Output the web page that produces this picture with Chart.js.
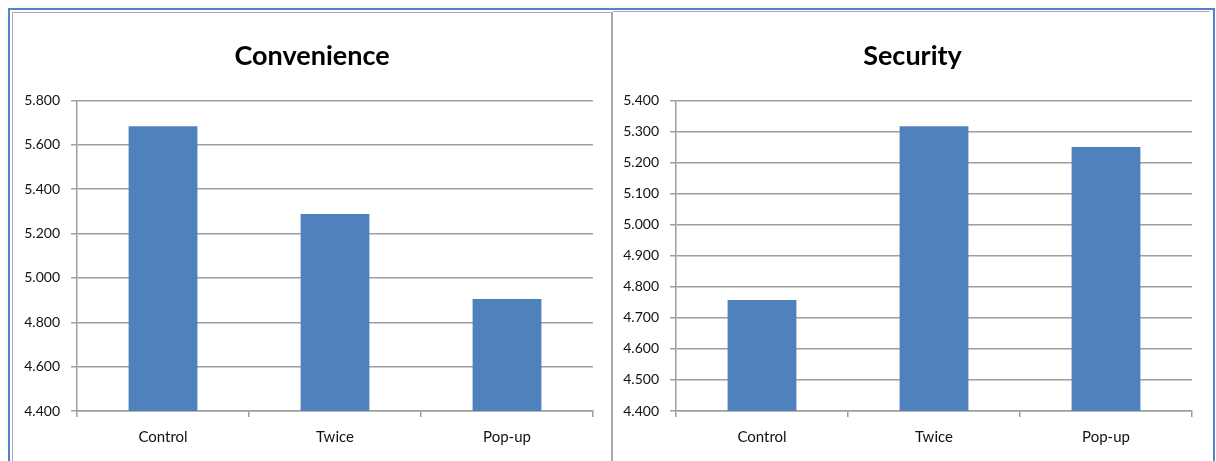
<!DOCTYPE html>
<html>
<head>
<meta charset="utf-8">
<title>Convenience / Security</title>
<script src="https://cdn.jsdelivr.net/npm/chart.js@4"></script>
<style>
  html, body { margin: 0; padding: 0; background: #fff; overflow: hidden; }
  body { width: 1216px; height: 461px; position: relative; }
  .frame { position: absolute; left: 8px; top: 8px; width: 1203px; height: 470px;
           border: 2px solid #5283cc; border-bottom: none; }
  .line { position: absolute; background: #a9a9a9; }
  canvas { position: absolute; }
</style>
</head>
<body>
<div class="frame"></div>
<div class="line" style="left:12px; top:12px; width:600px; height:1px;"></div>
<div class="line" style="left:12px; top:12px; width:1px; height:460px;"></div>
<div class="line" style="left:611px; top:12px; width:2px; height:460px;"></div>
<div class="line" style="left:613px; top:11px; width:596px; height:1px;"></div>
<div style="position:absolute; left:13px; top:13px; width:598px; height:448px;"><canvas id="convChart"></canvas></div>
<div style="position:absolute; left:613px; top:13px; width:599px; height:448px;"><canvas id="secChart"></canvas></div>

<script>
let groups = ["Control", "Twice", "Pop-up"];

let convenience = [5.683, 5.288, 4.905];
let security = [4.757, 5.317, 5.250];

let convTicks = [4.4, 4.6, 4.8, 5.0, 5.2, 5.4, 5.6, 5.8];
let secTicks = [4.4, 4.5, 4.6, 4.7, 4.8, 4.9, 5.0, 5.1, 5.2, 5.3, 5.4];

let font = "Lato, 'Open Sans', sans-serif";
let gridGray = "#9e9e9e";

// centre the title over the whole canvas, not just the padded area
let titleSpan = {
  id: "titleSpan",
  afterLayout: function (chart) {
    if (chart.titleBlock) {
      chart.titleBlock.left = 0;
      chart.titleBlock.right = chart.width;
      chart.titleBlock.width = chart.width;
    }
  }
};

function makeChart(id, title, values, ticks, axisWidth, padRight) {
  let ctx = document.getElementById(id).getContext("2d");
  return new Chart(ctx, {
    type: "bar",
    data: {
      labels: groups,
      datasets: [{
        label: title,
        data: values,
        backgroundColor: "#4f81bd",
        borderWidth: 0,
        barPercentage: 0.4,
        categoryPercentage: 1
      }]
    },
    plugins: [titleSpan],
    options: {
      responsive: true,
      maintainAspectRatio: false,
      animation: false,
      layout: { padding: { top: 0, right: padRight, bottom: 0, left: 0 } },
      plugins: {
        legend: { display: false },
        tooltip: { enabled: false },
        title: {
          display: true,
          text: title,
          color: "#000",
          font: { family: font, size: 27, weight: "bold", lineHeight: 1.2 },
          padding: { top: 27, bottom: 28 }
        }
      },
      scales: {
        x: {
          grid: { offset: true, drawOnChartArea: false, drawTicks: true, tickLength: 6, color: gridGray, lineWidth: 1.5 },
          border: { color: gridGray, width: 1.5 },
          ticks: { color: "#111", font: { family: font, size: 15 }, padding: 11 },
          afterFit: function (scale) { scale.height = 50; }
        },
        y: {
          min: ticks[0],
          max: ticks[ticks.length - 1],
          grid: { color: gridGray, lineWidth: 1.5, tickLength: 6 },
          border: { color: gridGray, width: 1.5 },
          ticks: {
            color: "#111",
            font: { family: font, size: 14 },
            padding: 11,
            callback: function (v) { return Number(v).toFixed(3); }
          },
          afterBuildTicks: function (scale) {
            scale.ticks = ticks.map(function (v) { return { value: v }; });
          },
          afterFit: function (scale) { scale.width = axisWidth; }
        }
      }
    }
  });
}

makeChart("convChart", "Convenience", convenience, convTicks, 64, 18);
makeChart("secChart", "Security", security, secTicks, 63, 20);
</script>
</body>
</html>
